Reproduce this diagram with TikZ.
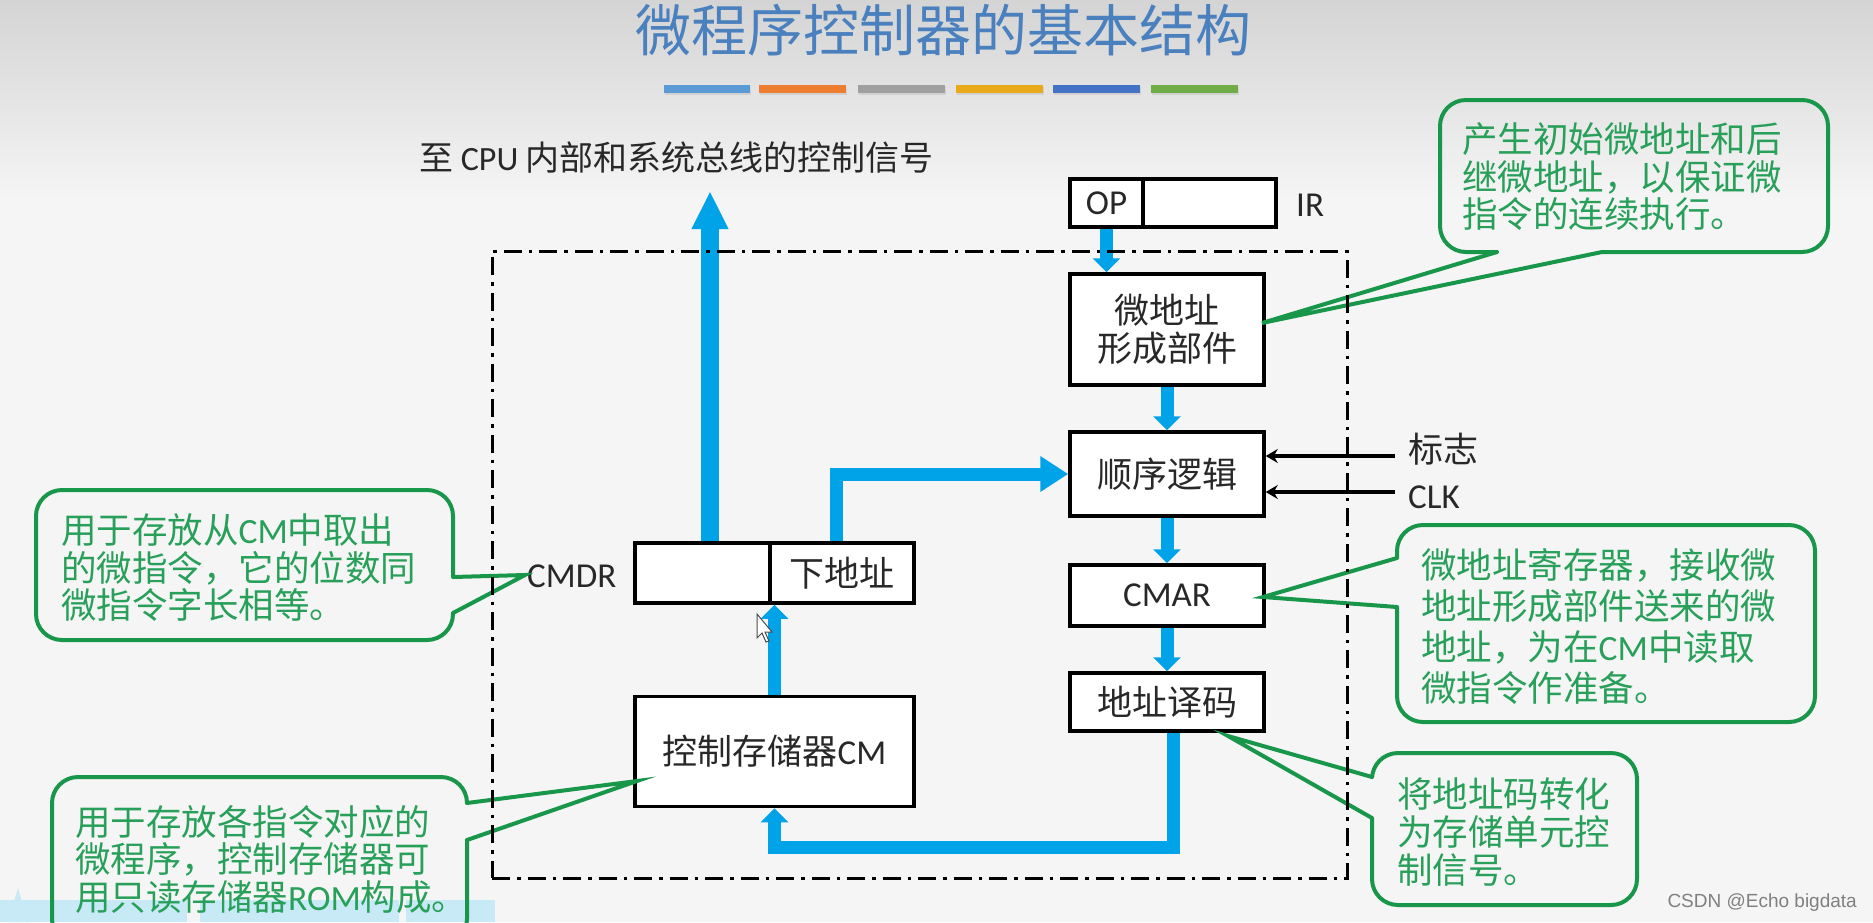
\documentclass[tikz,border=0pt]{standalone}
\usepackage{fontspec}
\setmainfont{Noto Sans CJK SC}
\newfontfamily\lat{Carlito}
\newfontfamily\wmfont{Liberation Sans}
\usetikzlibrary{arrows.meta}
\definecolor{bgc}{RGB}{245,245,245}
\definecolor{bgtop}{RGB}{212,212,212}
\definecolor{cpblue}{RGB}{0,162,232}
\definecolor{gline}{RGB}{24,150,74}
\definecolor{gtext}{RGB}{40,160,90}
\definecolor{ttl}{RGB}{74,128,190}
\definecolor{boxtext}{RGB}{40,40,40}
\definecolor{barA}{RGB}{91,155,213}
\definecolor{barB}{RGB}{237,125,49}
\definecolor{barC}{RGB}{160,160,160}
\definecolor{barD}{RGB}{232,170,24}
\definecolor{barE}{RGB}{68,114,196}
\definecolor{barF}{RGB}{112,173,71}
\definecolor{cyanband}{RGB}{200,234,247}
\begin{document}
\begin{tikzpicture}[x=1pt,y=-1pt,
  blockbox/.style={draw=black, line width=3.5pt, fill=white, inner sep=0pt, text=boxtext, font=\fontsize{35}{38}\selectfont, align=center},
  lbl/.style={inner sep=0pt, text=boxtext, font=\fontsize{35}{38}\selectfont},
  barrow/.style={draw=cpblue, line width=13pt, -{Triangle[length=14pt,width=27pt]}},
  blk/.style={draw=black, line width=3.5pt, -{Stealth[length=12pt,width=14pt,inset=4pt]}},
  bubble/.style={draw=gline, line width=4pt, rounded corners=26pt, inner sep=0pt},
  gl/.style={draw=gline, line width=4pt, line join=miter, line cap=round},
  btext/.style={anchor=west, align=left, inner sep=0pt, text=gtext, font=\fontsize{35.5}{37.5}\selectfont},
  frame/.style={draw=black, line width=3pt, dash pattern=on 18pt off 7pt on 3.5pt off 7pt, inner sep=0pt}
]
\useasboundingbox (0,0) rectangle (1873,922);
\clip (0,0) rectangle (1873,922);
\fill[bgc] (0,0) rectangle (1873,922);
\shade[top color=bgtop, bottom color=bgc] (0,0) rectangle (1873,200);

% cyan artefact band at bottom left
\fill[cyanband] (0,900) rectangle (495,922);
\fill[cyanband] (8,922) -- (18,888) -- (28,922) -- cycle;
\fill[bgc] (187,900) rectangle (200,922);
\fill[bgc] (399,900) rectangle (406,922);

% title and colour bars
\node[text=ttl, font=\fontsize{56}{60}\selectfont, inner sep=0pt] (title) at (943,30) {微程序控制器的基本结构};
\foreach \xa/\xb/\c in {664/750/barA, 759/846/barB, 858/945/barC, 956/1043/barD, 1053/1140/barE, 1151/1238/barF}{
  \fill[black!18] (\xa+1,87) rectangle (\xb+1,95);
  \fill[\c] (\xa,85) rectangle (\xb,93);
}

% top text
\node[anchor=west, inner sep=0pt, text=boxtext, font=\fontsize{34}{38}\selectfont] (cputext) at (419,158) {至 {\lat CPU} 内部和系统总线的控制信号};

% boxes
\node[blockbox, minimum width=73pt, minimum height=48pt] (op) at (1106.5,203) {\lat OP};
\node[blockbox, minimum width=133pt, minimum height=48pt] (irr) at (1209.5,203) {};
\node[lbl, anchor=west] (ir) at (1296,205) {\lat IR};
\node[blockbox, minimum width=194pt, minimum height=111pt] (wdz) at (1167,329.5) {微地址\\形成部件};
\node[blockbox, minimum width=194pt, minimum height=84pt] (sxlj) at (1167,474) {顺序逻辑};
\node[blockbox, minimum width=194pt, minimum height=61pt] (cmar) at (1167,595.5) {\lat CMAR};
\node[blockbox, minimum width=194pt, minimum height=58pt] (dzym) at (1167,702) {地址译码};
\node[blockbox, minimum width=135pt, minimum height=60pt] (cmdrL) at (702.5,573) {};
\node[blockbox, minimum width=144pt, minimum height=60pt] (cmdrR) at (842,573) {下地址};
\node[lbl, anchor=west] (cmdrlbl) at (527,576) {\lat CMDR};
\node[blockbox, minimum width=279pt, minimum height=110pt] (cm) at (774.5,751.5) {控制存储器{\lat CM}};

% blue data paths
\coordinate (cpuout) at (710,191);
\draw[draw=cpblue, line width=18pt, -{Triangle[length=38pt,width=34pt]}] (cmdrL.north -| cpuout) -- (cpuout);
\draw[barrow, -{Triangle[length=28pt,width=34pt]}] ([xshift=-6pt]cmdrR.north) |- (sxlj.west);
\draw[barrow] (op.south) -- (wdz.north -| op.south);
\draw[barrow] (wdz.south) -- (sxlj.north);
\draw[barrow] (sxlj.south) -- (cmar.north);
\draw[barrow] (cmar.south) -- (dzym.north);
\coordinate (loopc) at (774.5,847);
\draw[barrow] ([xshift=6pt]dzym.south) |- (loopc) -- (cm.south);
\draw[barrow] (cm.north) -- (cmdrL.south -| cm.north);

% flag and clock inputs
\coordinate (flagin) at (1395,456);
\coordinate (clkin) at (1395,492);
\draw[blk] (flagin) -- (flagin -| sxlj.east);
\draw[blk] (clkin) -- (clkin -| sxlj.east);
\node[lbl, anchor=west] (flag) at (1408,449) {标志};
\node[lbl, anchor=west] (clk) at (1408,497) {\lat CLK};

% mouse cursor
\filldraw[fill=white, draw=black!70, line width=1pt] (757,614) -- (757,638) -- (762,633) -- (766,642) -- (769,641) -- (765,632) -- (772,632) -- cycle;

% callout 1
\node[bubble, minimum width=388pt, minimum height=152pt] (b1) at (1634,176) {};
\coordinate (p1a) at (1497,252); \coordinate (p1b) at (1602,252); \coordinate (tip1) at (1262,323);
\fill[bgc] (1497,249) rectangle (1602,255);
\draw[gl] (p1a) -- (tip1) -- (p1b);
\node[btext] (t1) at (1462,177) {产生初始微地址和后\\继微地址，以保证微\\指令的连续执行。};

% callout 2
\node[bubble, minimum width=417pt, minimum height=150pt] (b2) at (244.5,565) {};
\coordinate (p2a) at (453,577); \coordinate (p2b) at (453,613); \coordinate (tip2) at (525,575);
\fill[bgc] (450,577) rectangle (456,613);
\draw[gl] (p2a) -- (tip2) -- (p2b);
\node[btext] (t2) at (61,568) {用于存放从{\lat CM}中取出\\的微指令，它的位数同\\微指令字长相等。};

% callout 3
\node[bubble, minimum width=415pt, minimum height=168pt] (b3) at (259.5,861) {};
\coordinate (p3a) at (467,803); \coordinate (p3b) at (467,840); \coordinate (tip3) at (637,781);
\fill[bgc] (464,803) rectangle (470,840);
\draw[gl] (p3a) -- (tip3) -- (p3b);
\node[btext] (t3) at (75,859) {用于存放各指令对应的\\微程序，控制存储器可\\用只读存储器{\lat ROM}构成。};

% callout 4
\node[bubble, minimum width=418pt, minimum height=197pt] (b4) at (1606,623.5) {};
\coordinate (p4a) at (1397,558); \coordinate (p4b) at (1397,607); \coordinate (tip4) at (1263,597);
\fill[bgc] (1394,558) rectangle (1400,607);
\draw[gl] (p4a) -- (tip4) -- (p4b);
\node[btext, font=\fontsize{35.5}{41}\selectfont] (t4) at (1421,626) {微地址寄存器，接收微\\地址形成部件送来的微\\地址，为在{\lat CM}中读取\\微指令作准备。};

% callout 5
\node[bubble, minimum width=265pt, minimum height=152pt] (b5) at (1504.5,829) {};
\coordinate (p5a) at (1372,777); \coordinate (p5b) at (1372,818); \coordinate (tip5) at (1228,736);
\fill[bgc] (1369,777) rectangle (1375,818);
\draw[gl] (p5a) -- (tip5) -- (p5b);
\node[btext, font=\fontsize{35.5}{38}\selectfont] (t5) at (1397,832) {将地址码转化\\为存储单元控\\制信号。};

% dash-dot frame
\node[frame, minimum width=855pt, minimum height=627pt] (frm) at (919.5,564.5) {};

% watermark
\node[anchor=east, inner sep=0pt, text=black!50, font=\wmfont\fontsize{19}{20}\selectfont] (wmk) at (1857,903) {CSDN @Echo bigdata};
\end{tikzpicture}
\end{document}
